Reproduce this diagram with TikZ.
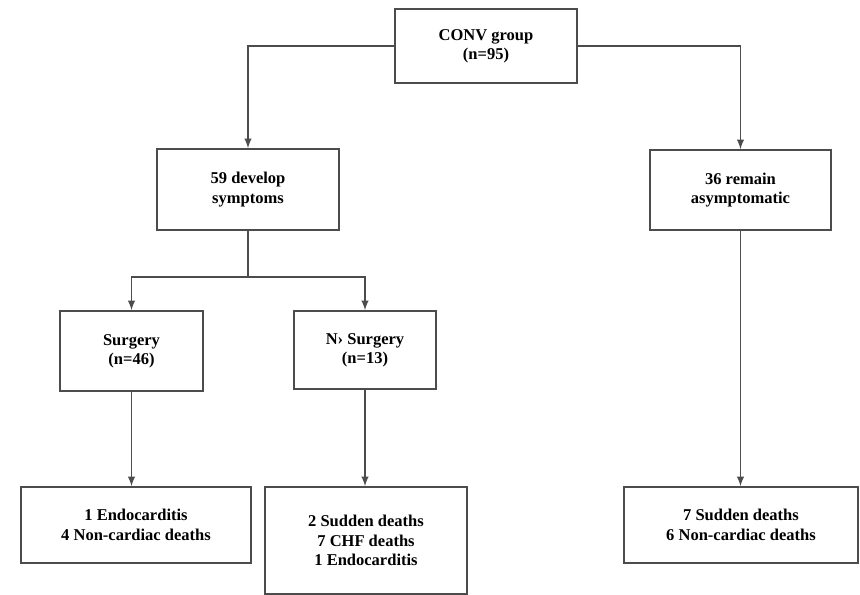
\documentclass[tikz,border=0pt]{standalone}
\usepackage{fontspec}
\setmainfont{Liberation Serif}[BoldFont={Liberation Serif Bold}]
\usepackage{tikz}

\tikzset{
  box/.style={draw=black!70, line width=0.9pt, fill=white, align=center, inner sep=0pt,
    font=\fontsize{9.4}{11}\selectfont\bfseries},
  link/.style={draw=black!70, line width=0.9pt},
  arr/.style={link, -latex}
}

\begin{document}
\begin{tikzpicture}[x=0.02cm, y=-0.02cm]
\useasboundingbox (0,0) rectangle (860,595);
%boxes
\node[box, minimum width=182*0.02cm, minimum height=74*0.02cm] (conv) at (486,46) {CONV group\\(n=95)};
\node[box, minimum width=182*0.02cm, minimum height=81*0.02cm] (develop) at (248,189.5) {59 develop\\symptoms};
\node[box, minimum width=181*0.02cm, minimum height=80*0.02cm] (asympt) at (740.5,190) {36 remain\\asymptomatic};
\node[box, minimum width=143*0.02cm, minimum height=80*0.02cm] (surgery) at (131.5,351) {Surgery\\(n=46)};
\node[box, minimum width=142*0.02cm, minimum height=78*0.02cm] (nosurgery) at (365,350) {N› Surgery\\(n=13)};
\node[box, minimum width=230*0.02cm, minimum height=76*0.02cm] (outsurg) at (136,525) {1 Endocarditis\\4 Non-cardiac deaths};
\node[box, minimum width=202*0.02cm, minimum height=107*0.02cm] (outnosurg) at (366,540.5) {2 Sudden deaths\\7 CHF deaths\\1 Endocarditis};
\node[box, minimum width=234*0.02cm, minimum height=76*0.02cm] (outasympt) at (741,525) {7 Sudden deaths\\6 Non-cardiac deaths};
%split point
\coordinate (split) at (248,277);
%arrows
\draw[arr] (conv.west) -| (develop.north);
\draw[arr] (conv.east) -| (asympt.north);
\draw[link] (develop.south) -- (split);
\foreach \n in {surgery,nosurgery}
\draw[arr] (split) -| (\n.north);
\foreach \a/\b in {surgery/outsurg,nosurgery/outnosurg,asympt/outasympt}
\draw[arr] (\a.south) -- (\a.south |- \b.north);
\end{tikzpicture}
\end{document}
